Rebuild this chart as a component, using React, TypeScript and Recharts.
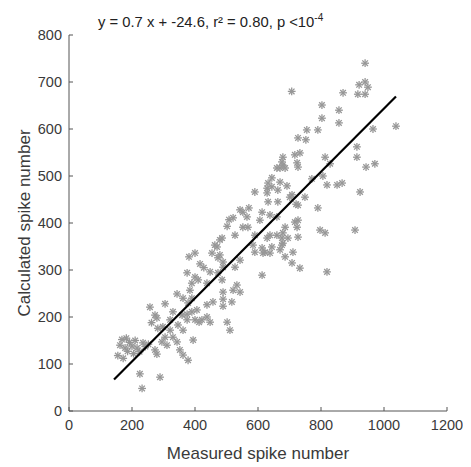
import React from "react";
import { ScatterChart, Scatter, XAxis, YAxis, Label } from "recharts";

// measured vs calculated spike counts
const measured = [
  155, 162, 168, 172, 178, 186, 192, 200, 210, 216, 224, 235, 242, 225, 232, 252, 205, 182,
  257, 273, 262, 282, 289, 273, 279, 295, 298, 305, 305, 311, 321, 321, 330, 330, 343, 343,
  346, 352, 362, 362, 375, 375, 378, 378, 362, 384, 390, 390, 394, 390, 400, 400, 406, 410,
  413, 375, 381, 400, 279, 359,
  416, 422, 428, 438, 438, 438, 448, 448, 454, 457, 463, 470, 473, 473, 479, 479, 486, 486,
  489, 489, 489, 489, 517, 502, 502, 508, 511, 527, 527, 533, 543, 543, 552, 552, 565, 568,
  571, 521, 521, 543, 489,
  584, 590, 590, 606, 613, 613, 613, 622, 629, 629, 632, 632, 638, 638, 638, 644, 663, 663,
  670, 670, 670, 676, 676, 679, 679, 679, 686, 686, 686, 692, 701, 708, 708, 711,
  660, 644, 660, 590, 679, 660, 629, 695, 644, 616, 676,
  707, 717, 717, 721, 724, 727, 727, 727, 727, 733, 733, 749, 752, 755, 771, 790, 790, 797,
  803, 803, 806, 813, 813, 819, 819, 829, 727, 724,
  851, 857, 857, 867, 870, 908, 914, 914, 917, 921, 924, 940, 940, 940, 943, 949, 965, 971, 1038,
];
const calculated = [
  118, 140, 152, 112, 134, 127, 146, 138, 150, 134, 126, 145, 137, 79, 48, 142, 122, 155,
  221, 204, 188, 176, 72, 130, 121, 147, 179, 228, 157, 140, 194, 172, 211, 157, 249, 147,
  183, 130, 119, 172, 194, 206, 108, 230, 240, 257, 240, 211, 151, 272, 285, 194, 215, 279,
  189, 294, 328, 336, 198, 204,
  313, 194, 305, 226, 272, 200, 296, 189, 336, 232, 353, 349, 326, 294, 364, 332, 368, 279,
  317, 253, 238, 223, 232, 189, 393, 407, 172, 374, 306, 268, 253, 428, 391, 423, 413, 391,
  432, 257, 411, 321, 306,
  353, 466, 338, 406, 423, 289, 347, 338, 474, 464, 485, 445, 417, 374, 336, 496, 470, 445,
  517, 487, 343, 530, 368, 540, 523, 357, 517, 391, 328, 479, 455, 315, 460, 338,
  517, 477, 413, 374, 379, 374, 368, 368, 349, 336, 353,
  680, 545, 402, 440, 528, 581, 438, 406, 370, 549, 304, 455, 577, 598, 494, 598, 432, 385,
  651, 623, 500, 540, 379, 481, 296, 526, 519, 391,
  481, 640, 613, 485, 677, 385, 562, 540, 674, 694, 466, 740, 700, 674, 519, 689, 600, 526, 606,
];

// least-squares line, end points as drawn in the figure
const fitX = [143, 1038];
const fitY = [67, 669];

const xTicks = [0, 200, 400, 600, 800, 1000, 1200];
const yTicks = [0, 100, 200, 300, 400, 500, 600, 700, 800];

const points = measured.map((m, i) => ({ x: m, y: calculated[i] }));
const fitLine = fitX.map((x, i) => ({ x, y: fitY[i] }));

const axisColor = "#555";
const textColor = "#3a3a3a";

function Asterisk(props: any) {
  const { cx, cy } = props;
  const r = 3.9;
  const d = 2.8;
  return (
    <g stroke="#979797" strokeWidth={1.3}>
      <line x1={cx - r} y1={cy} x2={cx + r} y2={cy} />
      <line x1={cx} y1={cy - r} x2={cx} y2={cy + r} />
      <line x1={cx - d} y1={cy - d} x2={cx + d} y2={cy + d} />
      <line x1={cx - d} y1={cy + d} x2={cx + d} y2={cy - d} />
    </g>
  );
}

function XTick(props: any) {
  const { x, y, payload } = props;
  return (
    <g>
      <line x1={x} y1={y} x2={x} y2={y - 4} stroke={axisColor} />
      <text x={x} y={y + 19} textAnchor="middle" fontSize={14.5} fill={textColor}>
        {payload.value}
      </text>
    </g>
  );
}

function YTick(props: any) {
  const { x, y, payload } = props;
  return (
    <g>
      <line x1={x} y1={y} x2={x + 4} y2={y} stroke={axisColor} />
      <text x={x - 7} y={y + 5} textAnchor="end" fontSize={14.5} fill={textColor}>
        {payload.value}
      </text>
    </g>
  );
}

export default function App() {
  return (
    <div style={{ position: "relative", width: 455, height: 459, fontFamily: "'Liberation Sans', Arial, sans-serif" }}>
      <div style={{ position: "absolute", left: 90, top: 4, fontSize: 14.8, color: "#222", whiteSpace: "nowrap" }}>
        y = 0.7 x + -24.6, r² = 0.80, p &lt;10<sup style={{ fontSize: 10 }}>-4</sup>
      </div>
      <ScatterChart width={455} height={459} margin={{ top: 27, right: 16, bottom: 0, left: 0 }}>
        <XAxis
          type="number"
          dataKey="x"
          domain={[0, 1200]}
          ticks={xTicks}
          interval={0}
          tickSize={0}
          tickMargin={0}
          tickLine={false}
          tick={<XTick />}
          height={56}
          stroke={axisColor}
        >
          <Label value="Measured spike number" position="center" dy={14} fontSize={17} fill={textColor} />
        </XAxis>
        <YAxis
          type="number"
          dataKey="y"
          domain={[0, 800]}
          ticks={yTicks}
          interval={0}
          tickSize={0}
          tickMargin={0}
          tickLine={false}
          tick={<YTick />}
          width={61}
          stroke={axisColor}
        >
          <Label value="Calculated spike number" position="center" angle={-90} dx={-14.5} fontSize={17} fill={textColor} />
        </YAxis>
        <Scatter data={points} shape={<Asterisk />} isAnimationActive={false} />
        <Scatter
          data={fitLine}
          line={{ stroke: "#000", strokeWidth: 2.2 }}
          shape={() => <g />}
          isAnimationActive={false}
        />
      </ScatterChart>
    </div>
  );
}
